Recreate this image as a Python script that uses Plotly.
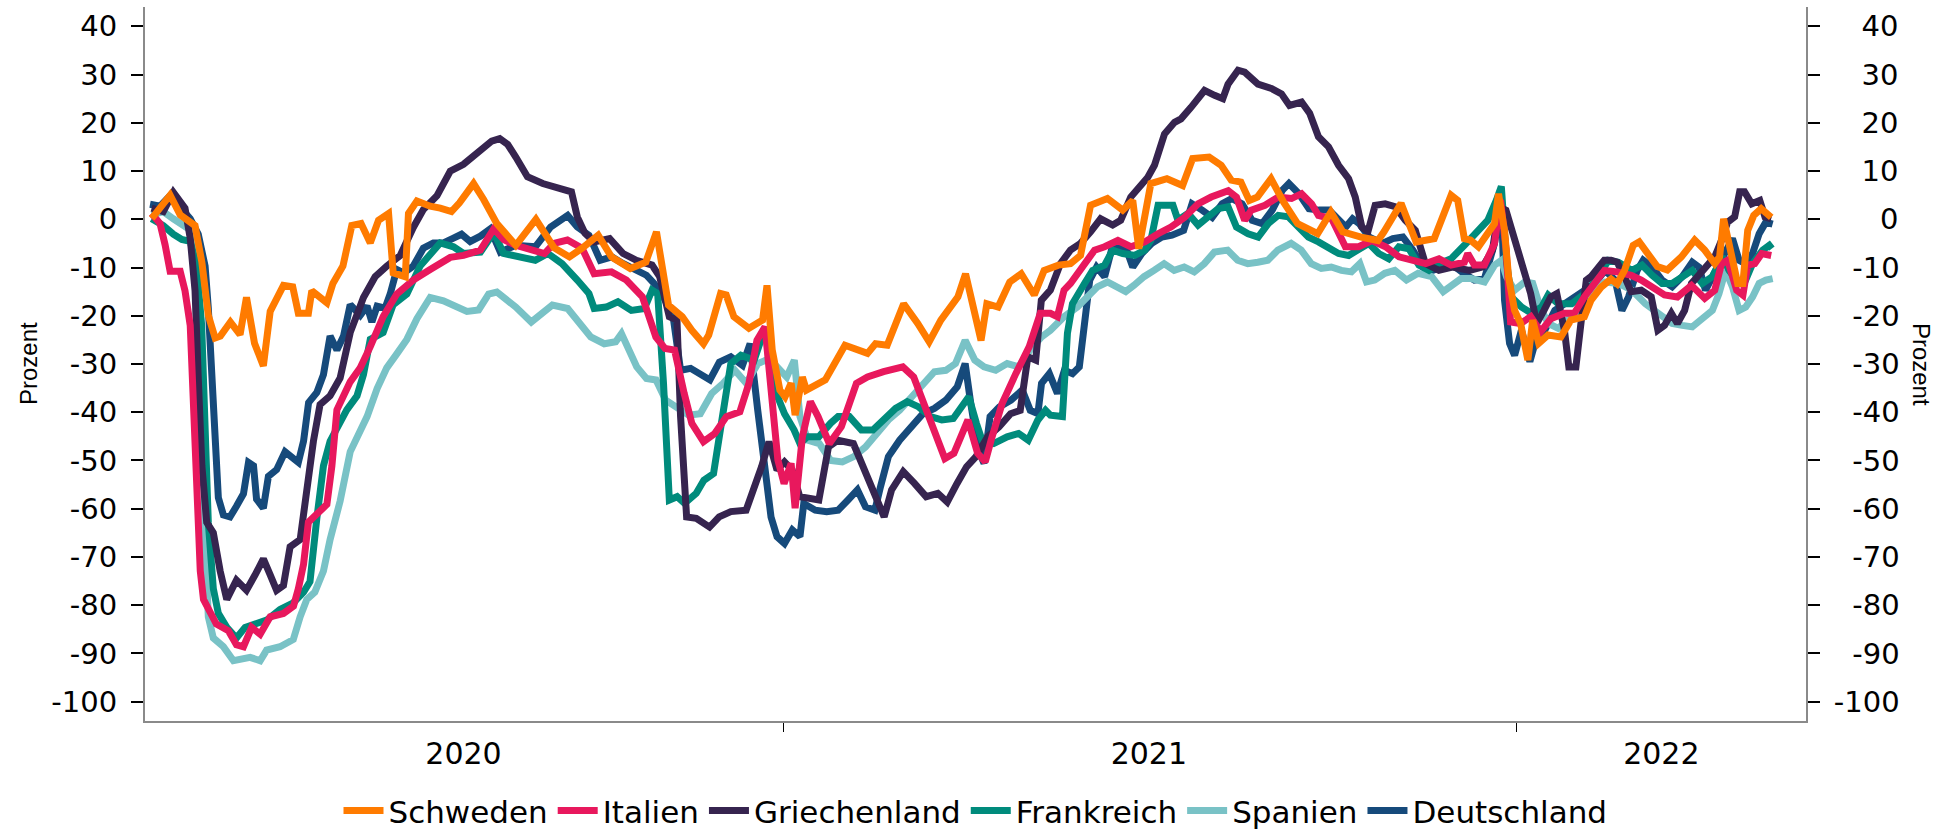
import pandas as pd
import plotly.graph_objects as go

# Tage seit dem 21.02.2020 und Werte (Prozent, gleitender Durchschnitt)
START = pd.Timestamp("2020-02-21")

schweden_tage = [0.9, 10, 15, 22.4, 25.8, 29, 32.4, 35, 40, 44.8, 48, 52, 56.4, 59.8, 66.4, 71, 73.8, 78.8, 80.5, 88, 91, 96, 100.4, 105, 109.6, 113.7, 118.7, 121, 127, 128.6, 132.8, 139.4, 144.4, 150, 154, 161, 166, 172.6,
                 182, 192, 201, 208.7, 215, 223, 229.6, 239, 246.7, 252, 258, 264.8, 269.6, 275.4, 278, 283.9, 286.7, 290.5, 298, 304.8, 307, 309.6, 313.4, 316, 319, 321, 324.6, 326.6, 336, 345.8, 357, 361, 366.8, 375, 382, 387.7, 393.5, 402, 405.8, 409.7, 413.5, 416.4, 422, 427.8, 433.5, 440, 444.9,
                 452, 458, 463, 468, 476.4, 484, 489, 492, 498, 506, 513.8, 518.8, 527, 533, 538, 542.8, 547, 551, 557.8, 564, 571, 581, 587.6, 593.5, 602.6, 611, 614, 622.5, 630, 639,
                 647.4, 650.7, 654, 657, 661, 665.7, 669, 671, 674, 676, 679, 682, 685.6, 688, 691, 695.6, 702, 707, 713.7, 717, 722, 727, 730, 733.7, 738, 741, 745, 750, 755, 762, 768.6, 773.6, 778.6, 781, 783, 786, 790, 792.6, 795, 798, 801.7, 806.7]
schweden_werte = [0.2, 5.0, 0.9, -1.3, -8.9, -19.9, -24.6, -24.2, -21.3, -23.9, -16.2, -25.7, -30.4, -19.1, -13.7, -14.0, -19.5, -19.5, -14.8, -17.3, -13.3, -9.7, -1.3, -0.9, -4.9, -0.2, 1.2, -11.1, -11.9, 1.2, 3.8, 2.7, 2.3, 1.6, 3.4, 7.4, 4.1, -0.9,
                  -5.4, 0.0, -5.9, -7.8, -6.0, -3.3, -7.8, -10.2, -8.9, -2.6, -17.8, -20.2, -23.0, -25.8, -24.0, -15.4, -15.7, -20.2, -22.6, -20.9, -13.7, -27.1, -35.4, -36.8, -34.0, -40.6, -32.7, -35.4, -33.3, -26.1, -27.8, -25.8, -26.1, -17.5, -21.6, -25.4, -20.9, -16.1, -11.3, -18.9, -25.1, -17.5, -18.2, -13.0, -11.3, -15.7, -10.6,
                  -9.5, -9.2, -7.5, 2.9, 4.3, 1.9, 3.9, -6.1, 7.4, 8.4, 7.0, 12.6, 12.9, 11.2, 8.1, 7.7, 3.9, 4.6, 8.4, 3.6, -0.9, -3.0, 1.5, -2.6, -3.7, -4.4, -2.6, 3.3, -4.7, -4.0,
                  5.0, 3.9, -4.0, -4.3, -5.7, -3.0, -0.9, 5.3, -2.3, -12.0, -18.9, -21.6, -29.2, -20.9, -25.7, -24.0, -24.4, -20.9, -20.2, -16.8, -14.1, -12.4, -13.4, -10.6, -5.4, -4.7, -7.1, -9.8, -10.5, -7.8, -4.3, -6.4, -9.2, -7.8, 0.1, -5.0, -13.3, -13.3, -2.3, 0.8, 2.2, 0.4]

italien_tage = [0.8, 5, 7.5, 10, 15, 17.4, 20, 21.6, 23.2, 25, 26.6, 29, 33, 39, 43, 46.5, 50.6, 54.8, 59.8, 66.4, 71.4, 73.8, 76.4, 78.8, 83.8, 88, 90.5, 93, 99.6, 104.6, 109.6, 116, 122.8, 131, 139.4, 149.4, 156, 164.4, 171, 176,
                182, 189.7, 196.3, 201, 207.7, 215, 221, 229.6, 237, 245, 251.7, 256.3, 261, 265.8, 269.6, 275.4, 281, 286.8, 293.5, 298, 302, 306, 309.6, 312.4, 315.5, 319, 321, 324.6, 328.6, 332.4, 338, 344, 351.5, 357, 365, 374.6, 380, 386, 391.6, 395.5, 400, 407, 411.8, 415.6, 418.5, 424, 430.8, 437.5, 443,
                448, 451.5, 454.8, 458, 463, 470, 475, 481.6, 488, 495, 501.6, 508, 514.8, 521.5, 528, 536.5, 540.6, 544.7, 548, 554.8, 561.4, 568, 573, 578, 581.4, 588, 594.8, 601.4, 608, 614.8, 621.5, 628, 634.8, 641.4,
                647.4, 654, 655.7, 659, 664, 669, 672, 674.8, 677, 682, 687, 692, 697, 703.8, 708.7, 713.7, 718.7, 723.7, 730, 737, 742, 747, 753.6, 760, 767, 773.6, 778.6, 782, 785, 789.5, 792.6, 795, 798.5, 802, 806.7]
italien_werte = [1.2, -0.9, -5.3, -10.8, -10.8, -14.8, -22.0, -36.6, -58.4, -72.9, -78.8, -80.9, -83.9, -85.3, -88.2, -88.6, -84.6, -86.0, -82.4, -81.7, -80.2, -76.6, -71.5, -62.8, -60.9, -59.1, -51.1, -39.5, -33.7, -30.8, -26.4, -20.2, -15.5, -12.6, -10.4, -7.9, -7.5, -6.4, -2.0, -4.2,
                 -5.4, -6.4, -7.1, -5.0, -4.3, -6.0, -11.3, -10.9, -12.6, -16.1, -24.4, -26.8, -27.1, -36.1, -42.3, -46.1, -44.4, -40.9, -39.9, -34.0, -25.1, -22.3, -38.2, -49.9, -54.8, -50.6, -59.9, -45.1, -37.8, -40.9, -46.5, -43.0, -34.0, -32.7, -31.6, -30.6, -32.7, -39.6, -45.1, -49.6, -48.5, -41.6, -48.5, -50.3, -45.8, -38.2, -32.0, -26.4, -19.5,
                 -19.5, -20.2, -14.7, -13.3, -10.6, -6.4, -5.7, -4.4, -5.7, -4.7, -3.0, -1.6, 0.4, 3.2, 4.6, 5.9, 4.6, -0.2, 1.9, 2.9, 4.6, 4.3, 5.3, 3.2, 0.8, 0.1, -5.7, -5.7, -4.4, -5.7, -7.8, -8.5, -9.2, -8.2,
                 -9.5, -8.9, -7.1, -9.5, -9.5, -5.0, 4.0, -6.4, -21.3, -21.6, -20.2, -23.3, -20.6, -19.5, -19.5, -16.1, -13.3, -10.6, -10.9, -11.6, -12.6, -14.0, -15.7, -16.1, -13.7, -16.4, -14.7, -9.2, -8.5, -14.7, -15.7, -9.5, -9.2, -7.1, -7.5]

griechenland_tage = [0.8, 6.6, 11.6, 17.4, 20, 22.4, 24, 25.8, 28.2, 31.5, 34.9, 38.2, 43, 48, 52.3, 56.4, 59.8, 63, 66.4, 69.7, 74.7, 77, 81.3, 84.6, 89.6, 94.6, 99.6, 106.2, 112, 117.8, 124.5, 131, 136, 142.8, 149.4, 156, 162.8, 166, 170, 174, 178,
                     182, 187.8, 195.4, 203, 209.7, 212.6, 216.4, 221, 228.7, 235.4, 242, 249.8, 253.6, 258.4, 262.2, 264, 267, 271.8, 278.4, 283.2, 289, 296.6, 300.4, 304.3, 308, 312, 315.7, 319.5, 323.3, 327, 332.8, 337.6, 342.3, 350, 355.7, 360.5, 365.3, 369, 374.8, 380.5, 386.2, 392, 396.7, 401.5, 406.3, 411, 416.8, 422.5, 428.2, 433, 436.8, 440.7, 443.5,
                     448, 453, 458, 463, 468, 473, 479, 483, 488, 491.5, 496.5, 499.8, 504.8, 509.8, 513, 518, 524.7, 529.7, 533.8, 536.4, 541.4, 544.7, 551.3, 558, 563, 567, 573, 577, 581.4, 586.4, 591.4, 596.4, 599.7, 603, 606, 609.6, 614.6, 619.6, 624.6, 629.6, 634.6, 641.3, 648, 656.6, 663, 668, 671.3, 674.7,
                     677, 680, 683.6, 687, 690, 693.6, 697, 700, 703.8, 706, 709.5, 712, 714.7, 717, 720.6, 723.6, 727, 730, 733.7, 737, 742, 747, 750.3, 753.6, 757, 760, 763.6, 767, 770, 773.6, 778.6, 782, 785, 788.5, 791, 793.4, 797, 801, 803.6, 806.7]
griechenland_werte = [2.3, 1.6, 5.6, 2.3, -3.9, -14.8, -32.9, -51.1, -62.8, -65.0, -72.9, -78.8, -74.8, -76.9, -73.7, -70.4, -73.7, -76.9, -75.9, -67.9, -66.4, -58.4, -46.0, -38.4, -36.6, -32.9, -23.5, -16.2, -11.9, -9.7, -7.5, -1.7, 2.0, 4.9, 10.0, 11.4, 13.6, 14.7, 16.2, 16.7, 15.5,
                      12.9, 8.8, 7.4, 6.4, 5.7, 0.5, -2.9, -4.7, -4.0, -7.1, -8.5, -9.5, -11.9, -20.2, -20.9, -40.9, -61.7, -62.0, -63.8, -61.7, -60.6, -60.3, -56.1, -51.3, -46.1, -52.0, -50.3, -52.0, -57.5, -57.9, -58.2, -47.2, -45.8, -46.5, -52.0, -56.8, -61.7, -56.1, -52.3, -54.8, -57.5, -56.8, -58.6, -54.8, -51.3, -49.2, -45.1, -43.0, -40.3, -39.6, -28.5, -29.2, -16.8,
                      -14.7, -9.2, -6.4, -5.0, -2.6, 0.1, -1.2, -0.2, 4.6, 6.4, 8.7, 11.2, 17.7, 20.1, 20.8, 23.2, 26.7, 25.7, 25.0, 28.0, 30.9, 30.5, 28.0, 27.1, 26.0, 23.6, 24.3, 22.0, 17.1, 15.0, 11.2, 8.4, 4.6, -1.6, -2.6, 2.9, 3.2, 2.6, -0.2, -2.3, -9.2, -10.6, -9.9, -10.6, -9.9, -6.4, 2.6, 1.9,
                      -1.6, -5.0, -10.6, -15.4, -21.6, -18.9, -16.1, -15.4, -23.0, -30.6, -30.6, -21.6, -12.6, -11.9, -10.2, -8.5, -8.5, -8.9, -11.9, -15.0, -14.7, -16.1, -23.0, -22.0, -19.5, -21.6, -18.9, -13.3, -11.9, -10.2, -7.8, -4.3, -0.6, 0.5, 5.7, 5.7, 3.2, 3.9, 0.5, 0.1]

frankreich_tage = [0.8, 6.6, 11.6, 15.8, 20, 23.2, 25.7, 27.4, 29, 31.5, 34, 38.2, 43, 47.3, 52.3, 58, 64.7, 71.3, 76.4, 79.6, 83, 86.3, 89.6, 93, 97.9, 103, 106.2, 109.6, 116, 121, 127.8, 134.4, 139.4, 144.4, 151, 156, 164.4, 171, 176,
                   184, 191.7, 198, 205, 212.6, 218.4, 221, 227, 232.8, 239.5, 246, 249.8, 252.6, 255.5, 258.4, 262.3, 266, 271.8, 275.6, 280.4, 284.3, 289, 294, 300.6, 305.4, 308.3, 311, 315.7, 320.5, 323.4, 327, 332.8, 338.6, 342.4, 348, 354, 359.7, 365.3, 371, 376.8, 382.5, 388.3, 394, 399.7, 403.5, 407.4, 411.2, 414, 419.8, 426.5, 432.2, 437, 441.8, 445.6,
                   448, 454, 456.5, 459, 465, 469, 475, 479, 484, 490, 495, 498, 501.6, 509, 511.5, 516.5, 521.5, 526.5, 531.5, 536.4, 540.6, 546.4, 551.4, 556.4, 561.4, 566.4, 571.4, 576.4, 581.4, 586.4, 591.4, 596.4, 601.4, 606.4, 611.4, 616.4, 621.4, 626.4, 631.4, 636.4, 641.4,
                   647.4, 654, 659, 665.7, 670, 672.4, 675, 677.4, 682.4, 687.4, 692.4, 695.7, 700.7, 707.4, 714, 720.7, 725.7, 730.7, 737.4, 742.4, 747.4, 752.4, 757.4, 762.4, 767.4, 772.4, 777.4, 782.4, 785.7, 790.7, 794, 797.4, 802.4, 805.7, 807]
frankreich_werte = [0.1, -1.3, -3.1, -4.2, -4.6, -9.7, -22.0, -43.9, -62.8, -76.6, -81.7, -84.6, -86.8, -84.6, -83.9, -83.1, -80.9, -79.5, -77.3, -75.1, -62.0, -51.1, -46.0, -43.1, -39.5, -36.6, -32.2, -24.9, -23.5, -17.7, -15.5, -9.7, -7.5, -4.9, -5.7, -7.1, -6.8, -2.8, -7.1,
                    -7.8, -8.5, -7.1, -9.2, -12.6, -15.4, -18.5, -18.2, -17.1, -18.9, -18.5, -14.7, -15.4, -34.0, -58.2, -57.5, -58.9, -56.8, -54.1, -52.7, -42.3, -29.9, -28.2, -29.2, -23.3, -26.4, -35.4, -40.3, -43.7, -46.5, -45.1, -45.1, -42.3, -40.9, -40.9, -43.7, -43.7, -41.3, -39.2, -37.8, -38.9, -40.9, -41.6, -41.3, -38.9, -36.8, -42.3, -45.8, -46.5, -45.1, -44.4, -45.8, -41.6, -39.6,
                    -40.6, -40.9, -23.6, -17.5, -13.3, -10.6, -9.5, -6.4, -7.1, -7.5, -6.4, -4.4, 2.9, 2.9, -0.2, 1.2, -1.2, 0.5, 2.2, 2.6, -1.6, -3.0, -3.7, -0.9, 0.8, 0.5, -1.6, -3.7, -4.7, -5.7, -7.1, -7.5, -6.4, -5.0, -7.1, -8.2, -5.7, -6.1, -9.5, -10.6, -9.2,
                    -8.2, -5.4, -3.0, -0.2, 4.0, 6.8, -8.9, -16.1, -18.2, -19.5, -18.2, -15.7, -17.5, -17.5, -15.4, -11.9, -8.5, -8.9, -10.6, -9.5, -11.6, -13.3, -13.3, -11.9, -10.6, -13.3, -11.9, -7.8, -10.6, -13.3, -12.6, -9.2, -6.4, -5.4, -6.1]

spanien_tage = [0.8, 6.6, 11.6, 16.6, 20.7, 23.2, 25.7, 27.4, 29, 31.5, 36.5, 41.5, 45.6, 49.8, 54.8, 58, 64.7, 71.3, 74.7, 78, 82, 86.3, 89.6, 94.6, 99.6, 104.6, 108, 113, 117.8, 122.8, 127.8, 132.8, 139.4, 146, 151, 157.7, 163.5, 168.5, 172.6,
                182, 189.7, 195.4, 200.2, 207.8, 212.6, 219.3, 226, 231.7, 234.6, 238.4, 242.2, 247, 251.8, 256.6, 262.3, 268, 273.8, 279.5, 285.2, 291, 296.7, 302.5, 308.2, 312, 316.8, 320.6, 323.4, 327.3, 333, 338.7, 344.5, 350.2, 356, 361.7, 367.4, 373, 378.8, 384.6, 390.3, 396, 400.8, 405.6, 410.4, 415, 420.8, 426.5, 432.2, 437.9, 443.6,
                448, 454.8, 461.4, 466.4, 471.4, 476.4, 481.4, 485.5, 489.6, 494.6, 499.6, 504.6, 509.6, 514.6, 519.6, 524.6, 529.6, 536.2, 541.2, 546.2, 551.2, 556.2, 561.2, 567.8, 572.8, 577.8, 582.8, 587.8, 592.8, 597.8, 602, 605.3, 609.4, 614.4, 619.4, 625.2, 631, 637.7, 643.5,
                647.4, 652.4, 657.4, 664, 669, 672.4, 675, 679, 684, 688, 691.7, 695.7, 700.7, 705.7, 710.7, 717.4, 724, 730.7, 737.4, 744, 750.7, 757.4, 762.4, 767.4, 772.4, 777.4, 780.7, 784, 787.4, 790.7, 794, 797.4, 800.7, 804, 807.4]
spanien_werte = [0.9, 1.6, 0.1, -1.3, -2.4, -8.9, -36.6, -65.7, -82.4, -86.8, -88.6, -91.5, -91.1, -90.8, -91.5, -89.3, -88.6, -87.1, -82.4, -78.8, -77.3, -72.9, -66.4, -58.4, -48.2, -43.9, -40.9, -35.1, -30.8, -27.9, -24.9, -20.6, -16.2, -16.9, -18.0, -19.1, -18.8, -15.5, -15.1,
                 -18.2, -21.3, -19.5, -17.8, -18.5, -20.9, -24.4, -25.8, -25.4, -23.7, -27.1, -30.6, -33.0, -33.3, -37.5, -38.9, -40.6, -40.3, -36.1, -34.0, -31.3, -34.0, -29.9, -28.9, -30.6, -32.7, -29.2, -40.9, -45.8, -46.5, -50.0, -50.3, -49.2, -47.2, -44.4, -41.6, -39.6, -36.8, -34.0, -31.6, -31.3, -29.9, -25.1, -29.2, -30.6, -31.3, -29.9, -30.6, -27.1, -24.4,
                 -23.0, -20.2, -18.2, -16.1, -14.0, -13.0, -14.0, -15.0, -13.7, -11.9, -10.6, -9.2, -10.6, -9.9, -10.9, -9.2, -6.8, -6.4, -8.5, -9.2, -8.9, -8.5, -6.4, -5.0, -6.4, -9.2, -10.2, -9.9, -10.6, -10.9, -9.2, -13.0, -12.6, -11.2, -10.6, -12.6, -11.2, -11.9, -15.0,
                 -14.0, -12.3, -12.3, -13.0, -9.5, -8.5, -11.9, -14.7, -13.0, -13.3, -18.2, -21.6, -22.6, -20.6, -18.9, -14.7, -13.0, -13.3, -14.7, -17.5, -19.5, -21.6, -22.0, -22.3, -20.6, -18.9, -15.4, -10.6, -14.0, -18.9, -18.2, -16.1, -13.3, -12.6, -12.3]

deutschland_tage = [0, 5, 10, 15, 20, 24, 27.4, 29, 30.7, 32.4, 34, 36.5, 39.8, 43, 46.5, 49, 51.5, 53, 56.4, 58.9, 63, 67.2, 71.3, 73.8, 76.4, 78.9, 83, 86.3, 89.6, 93, 96.3, 99.6, 104.6, 108, 110.4, 113, 117, 119.5, 122.8, 126.2, 131, 136, 141, 146, 151, 155, 159.3, 164.4, 169.3, 174.3,
                    182, 191.7, 199.3, 205, 207.8, 212.6, 218.4, 224, 229.8, 235.5, 241.2, 247, 250.8, 255.5, 260.3, 264, 269, 273.8, 278.6, 283.3, 289, 294.8, 298.6, 302.4, 306.3, 309, 312, 315.7, 319.6, 323.4, 325.3, 331, 336.7, 342.4, 347.3, 352, 356, 360.7, 363.5, 367.4, 373, 378.8, 384.6, 390.3, 396, 401.7, 405.6, 408.4, 412.2, 415, 418, 422.6, 428.4, 434, 438, 441.8, 443.6, 447.5,
                    451.5, 455, 459, 462.4, 465, 467.6, 471, 475, 478.4, 481.7, 486, 489, 493.5, 498.5, 503.5, 508.5, 514.3, 518.5, 523.5, 528.5, 533.5, 538.4, 543.4, 548.4, 553.4, 558.4, 563.4, 566.7, 571.7, 576.7, 581.7, 586.7, 591.7, 595, 598.4, 601.7, 606.7, 613.3, 618.4, 623.4, 628.4, 633.4, 638.4, 643.4,
                    647.4, 654, 659, 664, 669, 672.4, 674, 676.5, 679, 682.4, 685, 686.6, 690, 694, 699, 704, 709, 714, 719, 724, 729, 732.4, 735.7, 740, 743, 747.4, 752.4, 757.4, 762.4, 767.4, 770.7, 774, 777.4, 780.7, 784, 787.4, 790.7, 794, 797.4, 800.7, 804, 807.4]
deutschland_werte = [3.1, 2.7, 4.9, 2.7, 0.1, -3.1, -9.7, -18.4, -32.9, -47.5, -57.7, -61.3, -61.7, -59.5, -56.9, -50.4, -51.1, -58.0, -59.9, -53.3, -51.9, -48.2, -49.3, -50.4, -46.0, -38.0, -35.9, -32.2, -24.2, -27.1, -24.2, -17.7, -19.9, -18.0, -21.3, -18.0, -18.4, -15.5, -10.4, -11.1, -9.7, -6.0, -4.9, -4.9, -3.9, -3.1, -4.6, -3.5, -2.0, -6.8,
                     -5.4, -5.7, -1.6, -0.2, 0.8, -1.6, -3.3, -8.5, -7.8, -9.2, -10.2, -11.6, -13.3, -16.1, -20.2, -31.3, -30.9, -32.0, -33.3, -29.6, -28.5, -30.3, -25.8, -39.6, -52.0, -61.7, -65.8, -67.2, -64.4, -65.8, -58.9, -60.3, -60.6, -60.3, -58.2, -56.1, -59.6, -60.3, -55.4, -49.2, -45.8, -43.0, -40.3, -39.2, -37.5, -34.7, -29.9, -38.2, -47.9, -50.6, -40.9, -38.9, -37.5, -35.4, -39.6, -40.3, -34.0, -32.0,
                     -36.1, -31.3, -32.0, -30.6, -21.6, -12.6, -9.9, -11.9, -6.4, -5.7, -6.4, -9.9, -7.1, -5.0, -3.7, -3.3, -2.3, 3.2, 1.9, 0.4, 3.2, 4.3, 3.2, -0.2, -0.9, 1.9, 6.0, 7.4, 5.3, 2.2, 1.9, 1.9, -0.2, -1.6, 0.1, -0.9, -3.7, -5.0, -4.0, -3.7, -6.4, -9.9, -10.6, -9.9,
                     -9.2, -11.3, -12.6, -12.3, -5.0, 4.0, -16.8, -25.7, -28.2, -23.0, -26.4, -29.5, -24.4, -23.0, -18.9, -17.5, -16.1, -14.4, -13.3, -10.6, -12.6, -18.9, -16.1, -10.6, -8.5, -9.9, -12.6, -14.0, -11.9, -8.9, -9.9, -14.7, -11.9, -9.9, -7.1, -4.0, -8.5, -9.2, -7.1, -3.0, -0.6, -1.0]

laender = ["Schweden", "Italien", "Griechenland", "Frankreich", "Spanien", "Deutschland"]
farben = ["#FF7B00", "#E8185D", "#36244F", "#008B7C", "#79C2C6", "#164A7B"]
tage = [schweden_tage, italien_tage, griechenland_tage, frankreich_tage, spanien_tage, deutschland_tage]
werte = [schweden_werte, italien_werte, griechenland_werte, frankreich_werte, spanien_werte, deutschland_werte]

y_ticks = list(range(-100, 41, 10))
jahr_labels = ["2020", "2021", "2022"]
jahr_label_pos = ["2020-07-26", "2021-07-02", "2022-03-14"]
jahr_grenzen = ["2021-01-01", "2022-01-01"]

FONT = "DejaVu Sans"
fig = go.Figure()
# Deutschland zuerst zeichnen (unten), Schweden zuletzt (oben, auf der rechten Achse)
for i in reversed(range(len(laender))):
    x = START + pd.to_timedelta(pd.Series(tage[i], dtype=float), unit="D")
    fig.add_trace(go.Scatter(
        x=x, y=werte[i], mode="lines", name=laender[i],
        line=dict(color=farben[i], width=7),
        legendrank=i + 1, hoverinfo="skip",
        yaxis="y2" if i == 0 else "y",
    ))


def lab(v):
    return str(v)


left_text = [lab(v) for v in y_ticks]


def pad(v):
    s = lab(v)
    if v == 0:
        return "\u2007\u2007\u2008" + s
    if v > 0:
        return "\u2007\u2008" + s
    if v > -100:
        return "\u2007" + s
    return s


right_text = [pad(v) for v in y_ticks]

axis_common = dict(
    range=[-104, 44], tickmode="array", tickvals=y_ticks,
    ticks="outside", ticklen=12, tickwidth=1.5, tickcolor="black",
    showline=True, linecolor="#8a8a8a", linewidth=2,
    showgrid=False, zeroline=False, fixedrange=True, automargin=False,
    ticklabelstandoff=8,
    tickfont=dict(family=FONT, size=29, color="black"),
)

fig.update_layout(
    width=1946, height=832,
    margin=dict(l=145, r=140, t=7, b=111, autoexpand=False),
    paper_bgcolor="white", plot_bgcolor="white",
    font=dict(family=FONT, color="black"),
    showlegend=True,
    legend=dict(orientation="h", x=0.5, xanchor="center", y=-0.126, yanchor="middle",
                font=dict(family=FONT, size=31, color="black"), itemwidth=40,
                bgcolor="rgba(0,0,0,0)"),
    xaxis=dict(
        type="date", range=["2020-02-18 12:00", "2022-05-25"],
        showline=True, linecolor="#8a8a8a", linewidth=2,
        showgrid=False, zeroline=False, automargin=False, fixedrange=True,
        tickmode="array", tickvals=jahr_label_pos, ticktext=jahr_labels, ticks="",
        ticklabelstandoff=5,
        tickfont=dict(family=FONT, size=30, color="black"),
        minor=dict(tickmode="array", tickvals=jahr_grenzen, ticks="outside",
                   ticklen=9, tickwidth=1, tickcolor="black", showgrid=False),
    ),
    yaxis=dict(**axis_common, ticktext=left_text),
    yaxis2=dict(**axis_common, ticktext=right_text, overlaying="y", side="right", anchor="x"),
    annotations=[
        dict(text="Prozent", xref="paper", yref="paper", x=-0.0704, y=0.5,
             showarrow=False, textangle=-90, xanchor="center", yanchor="middle",
             font=dict(family="Liberation Sans", size=24, color="black")),
        dict(text="Prozent", xref="paper", yref="paper", x=1.0699, y=0.5,
             showarrow=False, textangle=90, xanchor="center", yanchor="middle",
             font=dict(family="Liberation Sans", size=24, color="black")),
    ],
)

fig.write_html(
    "out.html",
    config={"displayModeBar": False},
    post_script="document.body.style.margin='0px';document.body.style.overflow='hidden';",
)
